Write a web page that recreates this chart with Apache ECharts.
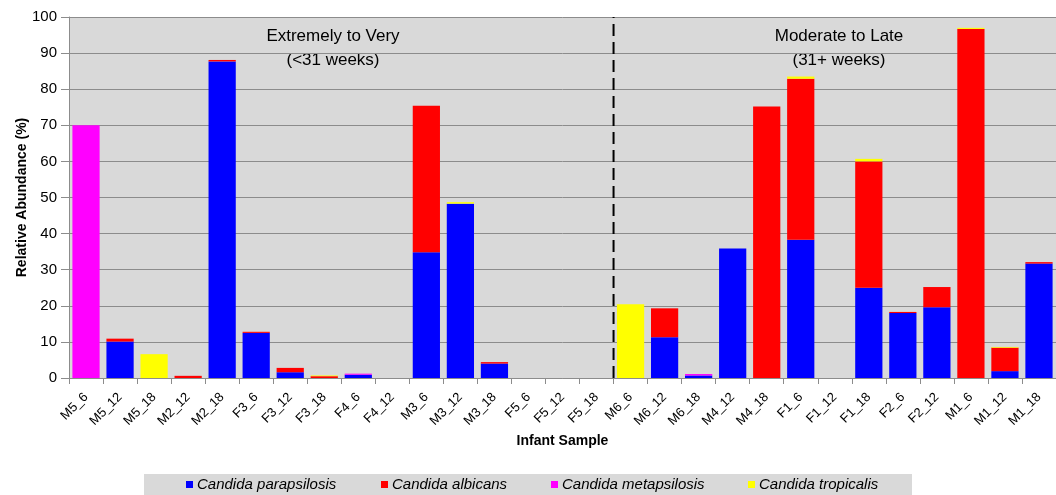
<!DOCTYPE html>
<html>
<head>
<meta charset="utf-8">
<script src="https://cdn.jsdelivr.net/npm/echarts@6/dist/echarts.min.js"></script>
<style>
html,body{margin:0;padding:0;background:#fff;}
#chart{width:1056px;height:495px;}
</style>
</head>
<body>
<div id="chart"></div>
<script>
const categories = ['M5_6','M5_12','M5_18','M2_12','M2_18','F3_6','F3_12','F3_18','F4_6','F4_12','M3_6','M3_12','M3_18','F5_6','F5_12','F5_18','M6_6','M6_12','M6_18','M4_12','M4_18','F1_6','F1_12','F1_18','F2_6','F2_12','M1_6','M1_12','M1_18'];
const parapsilosis = [0,10.1,0,0,87.7,12.5,1.6,0,0.9,0,34.8,48.3,4.0,0,0,0,0,11.3,0.7,35.9,0,38.3,0,25.0,18.0,19.6,0,1.9,31.7];
const albicans     = [0,0.8,0,0.6,0.4,0.3,1.2,0.5,0,0,40.6,0,0.4,0,0,0,0,8.0,0,0,75.2,44.6,0,35.0,0.3,5.6,96.7,6.5,0.4];
const metapsilosis = [70.0,0,0,0,0,0,0,0,0.3,0,0,0,0,0,0,0,0,0,0.4,0,0,0,0,0,0,0,0,0,0];
const tropicalis   = [0,0,6.6,0,0,0,0,0.2,0,0,0,0.4,0,0,0,0,20.4,0,0,0,0,0.6,0,0.7,0,0,0.3,0.2,0];
const yTicks = [0,10,20,30,40,50,60,70,80,90,100];
const seriesNames = ['Candida parapsilosis','Candida albicans','Candida metapsilosis','Candida tropicalis'];
const seriesColors = ['#0000ff','#ff0000','#ff00ff','#ffff00'];
const groupLabels = ['Extremely to Very\n(<31 weeks)','Moderate to Late\n(31+ weeks)'];
const dividerIndex = 16; // boundary between F5_18 and M6_6

const chart = echarts.init(document.getElementById('chart'), null, {renderer:'canvas'});
const FONT = '"Liberation Sans", Arial, sans-serif';
const values = [parapsilosis, albicans, metapsilosis, tropicalis];

const series = seriesNames.map((n,i)=>({
  name: n,
  type: 'bar',
  stack: 'total',
  data: values[i],
  barCategoryGap: '20%',
  itemStyle: {color: seriesColors[i]},
  emphasis: {disabled: true},
  animation: false
}));

// dashed divider drawn on a hidden value x-axis spanning the category boundaries
series.push({
  type: 'line',
  xAxisIndex: 1,
  data: [[dividerIndex, 0], [dividerIndex, 100]],
  symbol: 'none',
  silent: true,
  clip: false,
  animation: false,
  lineStyle: {color: '#000', type: [12, 6], width: 2},
  z: 5
});

const legendLefts = [186, 381, 551, 748];

chart.setOption({
  animation: false,
  textStyle: {fontFamily: FONT},
  grid: {left: 69, top: 17, right: -8, bottom: 117, show: true, backgroundColor: '#d9d9d9', borderWidth: 0},
  xAxis: [{
    type: 'category',
    data: categories,
    name: 'Infant Sample',
    nameLocation: 'middle',
    nameGap: 56,
    nameMoveOverlap: false,
    nameTextStyle: {fontFamily: FONT, fontWeight: 'bold', fontSize: 14, color: '#000'},
    axisLine: {lineStyle: {color: '#8c8c8c', width: 1}},
    axisTick: {show: true, length: 6, lineStyle: {color: '#8c8c8c'}},
    axisLabel: {rotate: 45, fontSize: 13, color: '#000', margin: 17, interval: 0}
  },{
    type: 'value',
    min: 0, max: categories.length,
    show: false
  }],
  yAxis: {
    type: 'value',
    min: 0, max: 100, interval: 10,
    name: 'Relative Abundance (%)',
    nameLocation: 'middle',
    nameGap: 40,
    nameMoveOverlap: false,
    nameRotate: 90,
    nameTextStyle: {fontFamily: FONT, fontWeight: 'bold', fontSize: 14, color: '#000'},
    axisLine: {show: true, lineStyle: {color: '#8c8c8c'}},
    axisTick: {show: true, length: 8, inside: false, lineStyle: {color: '#8c8c8c'}},
    axisLabel: {fontSize: 15, color: '#000', margin: 12,
      formatter: v => yTicks.includes(v) ? String(v) : ''},
    splitLine: {lineStyle: {color: '#8c8c8c', width: 1}}
  },
  legend: seriesNames.map((n,i)=>({
    data: [n],
    left: legendLefts[i],
    top: 477,
    itemWidth: 7,
    itemHeight: 7,
    itemGap: 0,
    icon: 'rect',
    padding: 0,
    textStyle: {fontFamily: FONT, fontStyle: 'italic', fontSize: 15, color: '#000', padding: [0,0,0,-1]},
    selectedMode: false
  })),
  graphic: [
    {type: 'rect', z: -10, shape: {x: 144, y: 474, width: 768, height: 21}, style: {fill: '#d9d9d9'}},
    {type: 'text', left: 333 - 70, top: 24, style: {text: groupLabels[0], font: '17px ' + FONT, fill: '#000', textAlign: 'center', lineHeight: 24, width: 140}},
    {type: 'text', left: 839 - 70, top: 24, style: {text: groupLabels[1], font: '17px ' + FONT, fill: '#000', textAlign: 'center', lineHeight: 24, width: 140}}
  ],
  series: series
});
</script>
</body>
</html>
